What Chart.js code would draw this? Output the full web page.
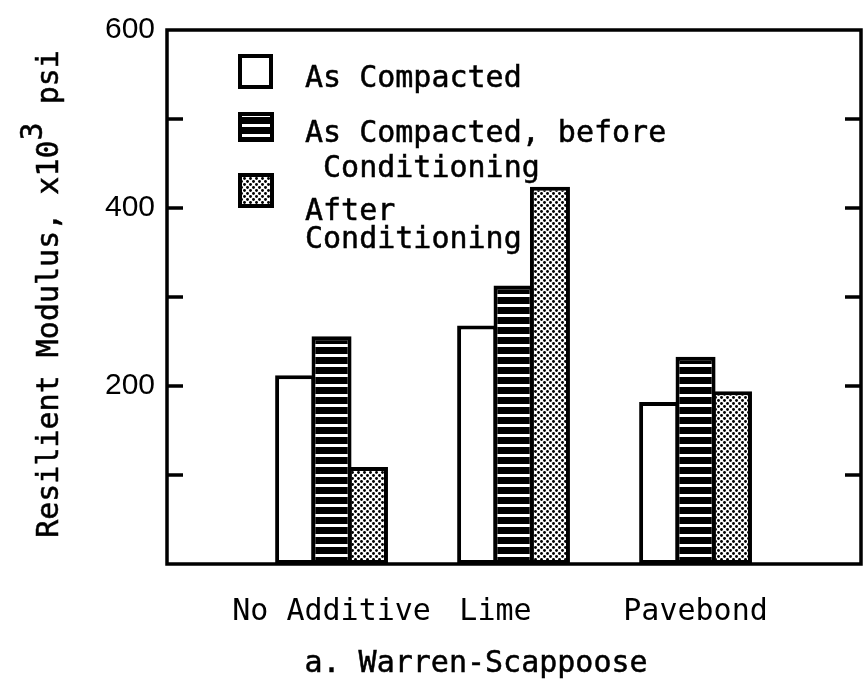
<!DOCTYPE html>
<html lang="en">
<head>
  <meta charset="UTF-8" />
  <title>Resilient Modulus - Warren-Scappoose</title>
  <script src="https://cdn.jsdelivr.net/npm/chart.js"></script>
  <style>
    html, body { margin: 0; padding: 0; background: #fff; }
    #wrap { width: 865px; height: 692px; }
  </style>
</head>
<body>
  <div id="wrap"><canvas id="chart" width="865" height="692"></canvas></div>

  <script>
    // Data (x10^3 psi)
    const categories = ['No Additive', 'Lime', 'Pavebond'];
    const asCompacted = [212, 268, 182];
    const beforeConditioning = [256, 313, 233];
    const afterConditioning = [109, 424, 194];
    const yTickLabels = [200, 400, 600];
    const seriesNames = ['As Compacted', 'As Compacted, before Conditioning', 'After Conditioning'];
    // how the legend text wraps in the figure
    const legendLines = [['As Compacted'], ['As Compacted, before', ' Conditioning'], ['After', 'Conditioning']];

    const MONO = '"DejaVu Sans Mono", monospace';
    const TEXT_FONT = '30px ' + MONO;

    // fill patterns
    function stripePattern() {
      const c = document.createElement('canvas');
      c.width = 10; c.height = 10;
      const g = c.getContext('2d');
      g.fillStyle = '#000'; g.fillRect(0, 0, 10, 10);
      g.fillStyle = '#fff'; g.fillRect(0, 4, 10, 3);
      return g.createPattern(c, 'repeat');
    }
    function dotPattern() {
      const c = document.createElement('canvas');
      c.width = 6; c.height = 6;
      const g = c.getContext('2d');
      g.fillStyle = '#fff'; g.fillRect(0, 0, 6, 6);
      g.fillStyle = '#000';
      g.beginPath(); g.arc(1.5, 1.5, 1.45, 0, Math.PI * 2); g.fill();
      g.beginPath(); g.arc(4.5, 4.5, 1.45, 0, Math.PI * 2); g.fill();
      return g.createPattern(c, 'repeat');
    }
    const fills = ['#fff', stripePattern(), dotPattern()];

    const toPoints = vals => vals.map((v, i) => ({ x: i + 1, y: v }));

    // text drawn a little heavier, like the plotter lettering
    function heavyText(ctx, t, x, y) {
      ctx.fillText(t, x, y);
      ctx.strokeText(t, x, y);
    }

    // frame, inside ticks, legend and axis titles
    const decor = {
      id: 'decor',
      beforeDraw(chart) {
        const ctx = chart.ctx;
        ctx.save();
        ctx.fillStyle = '#fff';
        ctx.fillRect(0, 0, chart.width, chart.height);
        ctx.restore();
      },
      afterDatasetsDraw(chart) {
        const ctx = chart.ctx;
        const a = chart.chartArea;
        const y = chart.scales.y;
        ctx.save();
        ctx.strokeStyle = '#000';
        ctx.lineWidth = 3.5;
        ctx.strokeRect(a.left, a.top, a.right - a.left, a.bottom - a.top);

        // tick marks inside the frame, both sides
        for (let v = 100; v < 600; v += 100) {
          const py = y.getPixelForValue(v);
          ctx.beginPath();
          ctx.moveTo(a.left, py); ctx.lineTo(a.left + 16, py);
          ctx.moveTo(a.right, py); ctx.lineTo(a.right - 16, py);
          ctx.stroke();
        }

        // legend
        const boxes = [
          { x: 238, y: 54, w: 35, h: 35, lines: [87] },
          { x: 238, y: 112, w: 36, h: 30, lines: [142, 177] },
          { x: 238, y: 173, w: 36, h: 35, lines: [220, 248] }
        ];
        boxes.forEach((b, i) => {
          ctx.fillStyle = fills[i];
          ctx.fillRect(b.x, b.y, b.w, b.h);
          ctx.lineWidth = 4;
          ctx.strokeStyle = '#000';
          ctx.strokeRect(b.x + 2, b.y + 2, b.w - 4, b.h - 4);
        });
        ctx.font = TEXT_FONT;
        ctx.textBaseline = 'alphabetic';
        ctx.textAlign = 'left';
        ctx.fillStyle = '#000';
        ctx.lineWidth = 0.5;
        boxes.forEach((b, i) => {
          legendLines[i].forEach((t, j) => heavyText(ctx, t, 305, b.lines[j]));
        });

        // y axis title with raised exponent
        ctx.save();
        ctx.translate(58, 294);
        ctx.rotate(-Math.PI / 2);
        const p1 = 'Resilient Modulus, x10', p2 = '3', p3 = ' psi';
        const w1 = ctx.measureText(p1).width, w2 = ctx.measureText(p2).width, w3 = ctx.measureText(p3).width;
        const sx = -(w1 + w2 + w3) / 2;
        heavyText(ctx, p1, sx, 0);
        heavyText(ctx, p2, sx + w1, -16);
        heavyText(ctx, p3, sx + w1 + w2, 0);
        ctx.restore();

        // x axis title
        ctx.textAlign = 'center';
        heavyText(ctx, 'a. Warren-Scappoose', 476, 672);
        ctx.restore();
      }
    };

    new Chart(document.getElementById('chart'), {
      type: 'bar',
      data: {
        datasets: [
          { label: seriesNames[0], data: toPoints(asCompacted), backgroundColor: fills[0] },
          { label: seriesNames[1], data: toPoints(beforeConditioning), backgroundColor: fills[1] },
          { label: seriesNames[2], data: toPoints(afterConditioning), backgroundColor: fills[2] }
        ]
      },
      options: {
        responsive: false,
        animation: false,
        events: [],
        layout: { padding: { top: 25, right: 4, left: 0, bottom: 0 } },
        datasets: {
          bar: {
            borderColor: '#000',
            borderWidth: 4,
            borderSkipped: false,
            categoryPercentage: 0.6,
            barPercentage: 1.1
          }
        },
        plugins: {
          legend: { display: false },
          tooltip: { enabled: false }
        },
        scales: {
          x: {
            type: 'linear',
            offset: false,
            min: 0.096,
            max: 3.909,
            grid: { display: false, drawTicks: false },
            border: { display: false },
            afterFit: s => { s.height = 128; },
            afterBuildTicks: s => { s.ticks = categories.map((c, i) => ({ value: i + 1 })); },
            ticks: {
              autoSkip: false,
              maxRotation: 0,
              padding: 30,
              color: '#000',
              font: { family: MONO, size: 30 },
              callback: v => categories[v - 1] === 'Lime' ? 'Lime  ' : categories[v - 1]
            }
          },
          y: {
            min: 0,
            max: 600,
            grid: { display: false, drawTicks: false },
            border: { display: false },
            afterFit: s => { s.width = 167; },
            ticks: {
              stepSize: 100,
              padding: 12,
              color: '#000',
              font: { family: '"Liberation Sans", Arial, sans-serif', size: 30 },
              callback: v => yTickLabels.includes(v) ? String(v) : ''
            }
          }
        }
      },
      plugins: [decor]
    });
  </script>
</body>
</html>
